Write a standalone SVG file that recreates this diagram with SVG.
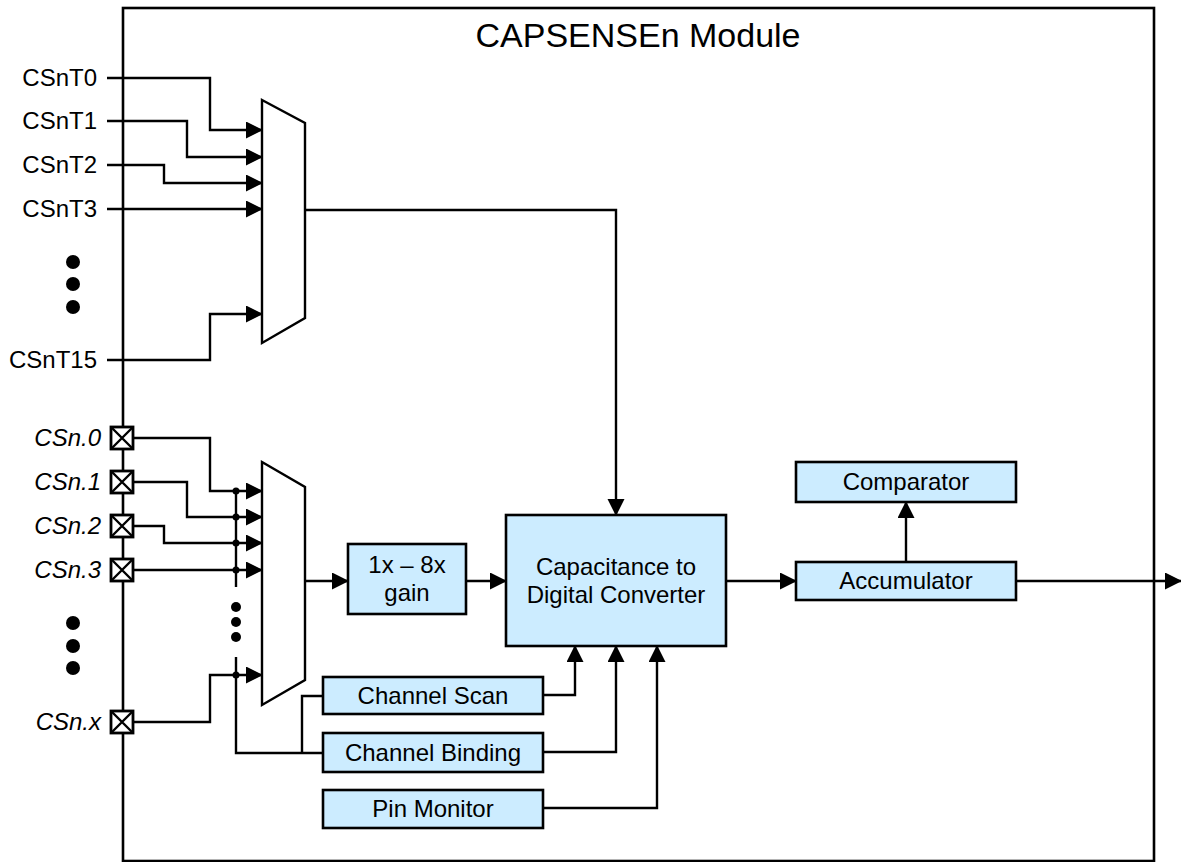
<svg xmlns="http://www.w3.org/2000/svg" width="1181" height="862" viewBox="0 0 1181 862">
<defs>
<marker id="arr" markerUnits="userSpaceOnUse" markerWidth="18" markerHeight="18" refX="16" refY="8.5" orient="auto">
<path d="M0,0 L17,8.5 L0,17 z" fill="#000"/>
</marker>
<style>
.ln{fill:none;stroke:#000;stroke-width:2.4;stroke-linejoin:miter}
.box{fill:#CCECFF;stroke:#000;stroke-width:2.6}
.mux{fill:#fff;stroke:#000;stroke-width:2.4}
.t{font-family:"Liberation Sans",Arial,sans-serif;font-size:24px;fill:#000}
.c{text-anchor:middle}
.r{text-anchor:end}
.i{font-style:italic}
.pin{fill:#fff;stroke:#000;stroke-width:2.8}
</style>
</defs>
<rect width="1181" height="862" fill="#fff"/>
<g id="module">
<rect x="123" y="8" width="1031" height="853" fill="none" stroke="#000" stroke-width="2.6"/>
<text class="t c" x="638" y="47" style="font-size:34px">CAPSENSEn Module</text>
</g>
<g id="connectors">
<polyline class="ln" points="107,78 210,78 210,130 262,130" marker-end="url(#arr)"/>
<polyline class="ln" points="107,121 187,121 187,157 262,157" marker-end="url(#arr)"/>
<polyline class="ln" points="107,165 164,165 164,183 262,183" marker-end="url(#arr)"/>
<polyline class="ln" points="107,209 262,209" marker-end="url(#arr)"/>
<polyline class="ln" points="107,360 210,360 210,314 262,314" marker-end="url(#arr)"/>
<polyline class="ln" points="305,210 616,210 616,515" marker-end="url(#arr)"/>
<polyline class="ln" points="133,438 210,438 210,491 262,491" marker-end="url(#arr)"/>
<polyline class="ln" points="133,482 187,482 187,517 262,517" marker-end="url(#arr)"/>
<polyline class="ln" points="133,526 164,526 164,543 262,543" marker-end="url(#arr)"/>
<polyline class="ln" points="133,570 262,570" marker-end="url(#arr)"/>
<polyline class="ln" points="133,722 210,722 210,675 262,675" marker-end="url(#arr)"/>
<polyline class="ln" points="236,489 236,587"/>
<polyline class="ln" points="236,657 236,753 323,753"/>
<polyline class="ln" points="302,753 302,696 323,696"/>
<polyline class="ln" points="305,581 348,581" marker-end="url(#arr)"/>
<polyline class="ln" points="466,581 506,581" marker-end="url(#arr)"/>
<polyline class="ln" points="726,581 796,581" marker-end="url(#arr)"/>
<polyline class="ln" points="906,562 906,502" marker-end="url(#arr)"/>
<polyline class="ln" points="1016,581 1181,581" marker-end="url(#arr)"/>
<polyline class="ln" points="543,695 575,695 575,646" marker-end="url(#arr)"/>
<polyline class="ln" points="543,752 616,752 616,646" marker-end="url(#arr)"/>
<polyline class="ln" points="543,808 657,808 657,646" marker-end="url(#arr)"/>
<g fill="#000">
<circle cx="236" cy="491" r="3.5"/>
<circle cx="236" cy="517" r="3.5"/>
<circle cx="236" cy="543" r="3.5"/>
<circle cx="236" cy="570" r="3.5"/>
<circle cx="236" cy="675" r="3.5"/>
<circle cx="236" cy="607" r="5"/>
<circle cx="236" cy="622" r="5"/>
<circle cx="236" cy="637" r="5"/>
</g>
</g>
<g id="inputs-top">
<text class="t r" x="97" y="86">CSnT0</text>
<text class="t r" x="97" y="129">CSnT1</text>
<text class="t r" x="97" y="173">CSnT2</text>
<text class="t r" x="97" y="217">CSnT3</text>
<text class="t r" x="97" y="368">CSnT15</text>
<circle cx="73" cy="262" r="7"/>
<circle cx="73" cy="284" r="7"/>
<circle cx="73" cy="307" r="7"/>
</g>
<g id="mux-top">
<polygon class="mux" points="262,100 305,123 305,318 262,343"/>
</g>
<g id="inputs-pins">
<text class="t r i" x="101" y="446">CSn.0</text>
<text class="t r i" x="101" y="490">CSn.1</text>
<text class="t r i" x="101" y="534">CSn.2</text>
<text class="t r i" x="101" y="578">CSn.3</text>
<text class="t r i" x="101" y="730">CSn.x</text>
<g id="pin0"><rect class="pin" x="111" y="427" width="22" height="22"/><path class="ln" d="M111,427 L133,449 M133,427 L111,449"/></g>
<g id="pin1"><rect class="pin" x="111" y="471" width="22" height="22"/><path class="ln" d="M111,471 L133,493 M133,471 L111,493"/></g>
<g id="pin2"><rect class="pin" x="111" y="515" width="22" height="22"/><path class="ln" d="M111,515 L133,537 M133,515 L111,537"/></g>
<g id="pin3"><rect class="pin" x="111" y="559" width="22" height="22"/><path class="ln" d="M111,559 L133,581 M133,559 L111,581"/></g>
<g id="pinx"><rect class="pin" x="111" y="711" width="22" height="22"/><path class="ln" d="M111,711 L133,733 M133,711 L111,733"/></g>
<circle cx="73" cy="623" r="7"/>
<circle cx="73" cy="646" r="7"/>
<circle cx="73" cy="668" r="7"/>
</g>
<g id="mux-pins">
<polygon class="mux" points="262,462 305,487 305,680 262,705"/>
</g>
<g id="gain">
<rect class="box" x="348" y="544" width="118" height="70"/>
<text class="t c" x="407" y="573">1x – 8x</text>
<text class="t c" x="407" y="601">gain</text>
</g>
<g id="cdc">
<rect class="box" x="506" y="515" width="220" height="131"/>
<text class="t c" x="616" y="575">Capacitance to</text>
<text class="t c" x="616" y="603">Digital Converter</text>
</g>
<g id="channel-scan">
<rect class="box" x="323" y="677" width="220" height="37"/>
<text class="t c" x="433" y="704">Channel Scan</text>
</g>
<g id="channel-binding">
<rect class="box" x="323" y="733" width="220" height="39"/>
<text class="t c" x="433" y="761">Channel Binding</text>
</g>
<g id="pin-monitor">
<rect class="box" x="323" y="790" width="220" height="38"/>
<text class="t c" x="433" y="817">Pin Monitor</text>
</g>
<g id="comparator">
<rect class="box" x="796" y="462" width="220" height="40"/>
<text class="t c" x="906" y="490">Comparator</text>
</g>
<g id="accumulator">
<rect class="box" x="796" y="562" width="220" height="38"/>
<text class="t c" x="906" y="589">Accumulator</text>
</g>
</svg>
